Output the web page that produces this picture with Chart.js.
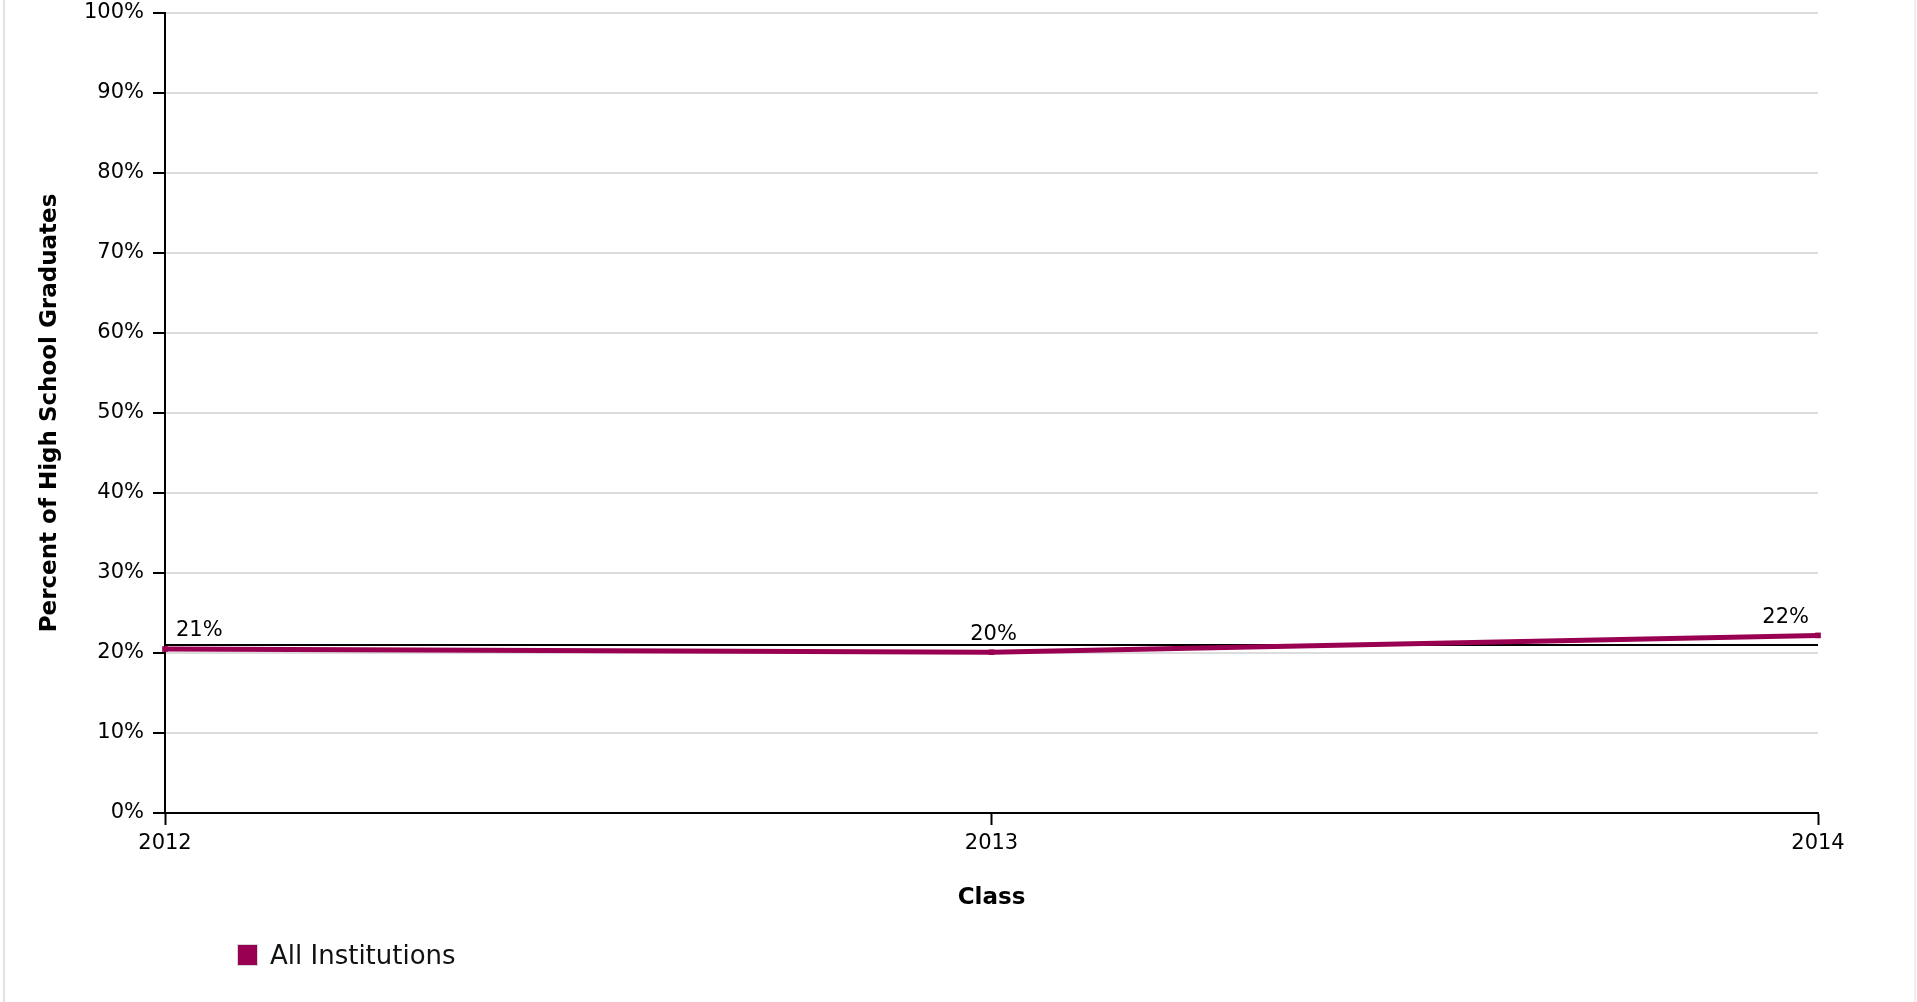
<!DOCTYPE html>
<html>
<head>
<meta charset="utf-8">
<script src="https://cdn.jsdelivr.net/npm/chart.js@4"></script>
<style>
  html, body { margin: 0; padding: 0; background: #fff; }
  #wrap { position: relative; width: 1917px; height: 1002px; overflow: hidden; }
  #frame { position: absolute; left: 3px; right: 1px; top: 0; bottom: 0; border-left: 2px solid #e2e2e2; border-right: 2px solid #eeeeee; }
  #chart { position: absolute; left: 0; top: 0; }
  #legend { position: absolute; left: 237px; top: 940px; font-family: 'DejaVu Sans'; font-size: 26px; color: #111; display: flex; align-items: center; }
  #legend .box { width: 19px; height: 20px; border: 1px solid #d6d6d6; margin-right: 12px; box-sizing: content-box; }
</style>
</head>
<body>
<div id="wrap">
  <div id="frame"></div>
  <canvas id="chart" width="1917" height="1002"></canvas>
  <div id="legend"></div>
</div>
<script>
// values
const classes = ['2012', '2013', '2014'];
const allInstitutions = [20.5, 20.1, 22.2];
const referenceLine = [21, 21, 21];
const yTicks = [0, 10, 20, 30, 40, 50, 60, 70, 80, 90, 100];

const lineColor = '#990052';

Chart.defaults.font.family = 'DejaVu Sans';
Chart.defaults.color = '#000';

// percent labels above each point: first left, middle centered, last right
const pointLabels = {
  id: 'pointLabels',
  afterDatasetsDraw(chart) {
    const ctx = chart.ctx;
    const meta = chart.getDatasetMeta(0);
    const values = chart.data.datasets[0].data;
    ctx.save();
    ctx.font = '21px "DejaVu Sans"';
    ctx.fillStyle = '#000';
    ctx.textBaseline = 'middle';
    meta.data.forEach((pt, i) => {
      let x = pt.x;
      if (i === 0) { ctx.textAlign = 'left'; x += 11; }
      else if (i === meta.data.length - 1) { ctx.textAlign = 'right'; x -= 9; }
      else { ctx.textAlign = 'center'; x += 2; }
      ctx.fillText(Math.round(values[i]) + '%', x, pt.y - 18);
    });
    ctx.restore();
  }
};

const chart = new Chart(document.getElementById('chart'), {
  type: 'line',
  data: {
    labels: classes,
    datasets: [
      {
        label: 'All Institutions',
        data: allInstitutions,
        borderColor: lineColor,
        backgroundColor: lineColor,
        borderWidth: 5,
        pointStyle: 'rect',
        pointRadius: 4,
        pointBorderWidth: 0,
        tension: 0,
      },
      {
        label: 'reference',
        data: referenceLine,
        borderColor: '#000',
        borderWidth: 2,
        pointRadius: 0,
        tension: 0,
      },
    ],
  },
  options: {
    responsive: false,
    animation: false,
    layout: { padding: { left: 30, right: 99, top: 13, bottom: 89 } },
    plugins: {
      legend: { display: false },
      tooltip: { enabled: false },
    },
    scales: {
      x: {
        offset: false,
        afterFit: (scale) => {
          scale.height = 100;
          scale.paddingLeft = 0;
          scale.paddingRight = 0;
        },
        border: { color: '#000', width: 2 },
        grid: { drawOnChartArea: false, tickColor: '#000', tickLength: 12, tickWidth: 2 },
        ticks: { font: { size: 21 }, padding: 6, maxRotation: 0 },
        title: { display: true, text: 'Class', font: { size: 23, weight: 'bold' }, padding: { top: 0, bottom: 1 } },
      },
      y: {
        min: 0,
        max: 100,
        afterFit: (scale) => {
          scale.width = 135;
          scale.paddingTop = 0;
          scale.paddingBottom = 0;
        },
        afterBuildTicks: (scale) => { scale.ticks = yTicks.map(v => ({ value: v })); },
        border: { color: '#000', width: 2 },
        grid: { color: '#dcdcdc', lineWidth: 2, tickColor: '#000', tickLength: 12, tickWidth: 2 },
        ticks: { font: { size: 21 }, padding: 9, callback: (v) => v + '%' },
        title: { display: true, text: 'Percent of High School Graduates', font: { size: 23, weight: 'bold' }, padding: { top: 6, bottom: 0 } },
      },
    },
  },
  plugins: [pointLabels],
});

// legend built from the first dataset
const legend = document.getElementById('legend');
const ds = chart.data.datasets[0];
legend.innerHTML = '<span class="box" style="background:' + ds.backgroundColor + '"></span><span>' + ds.label + '</span>';
</script>
</body>
</html>
